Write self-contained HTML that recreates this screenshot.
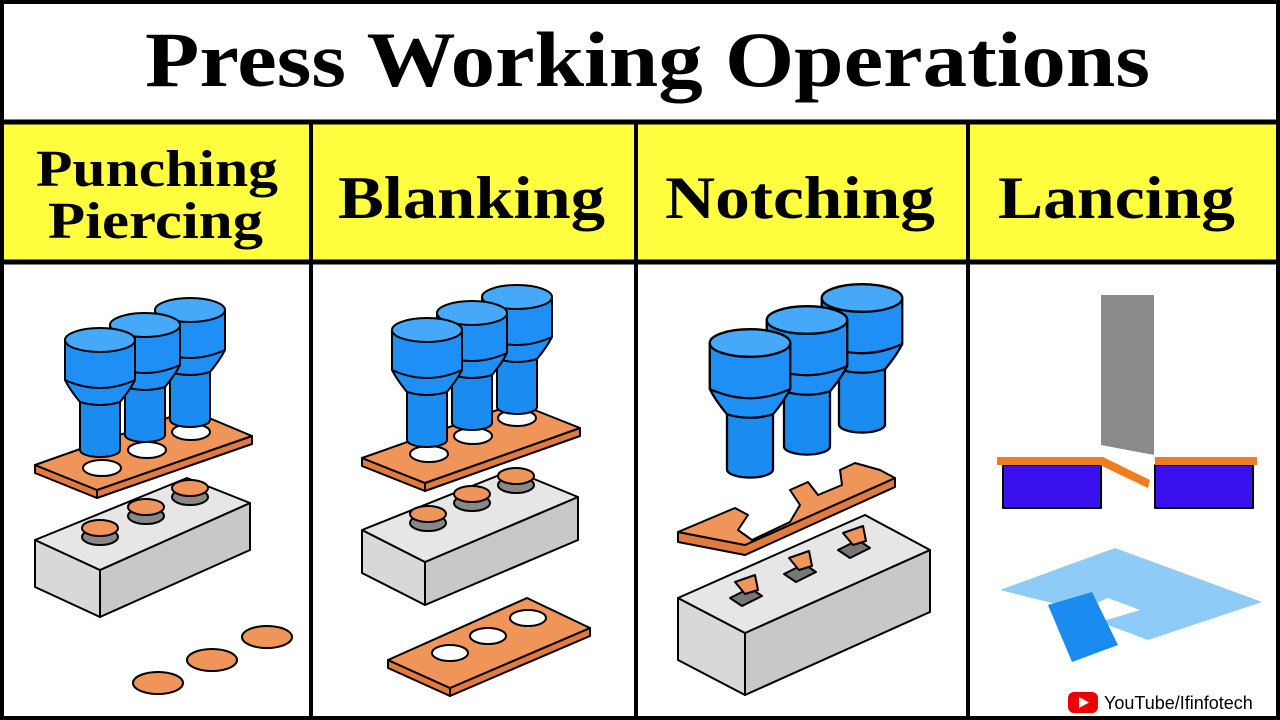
<!DOCTYPE html>
<html><head><meta charset="utf-8"><style>
html,body{margin:0;padding:0;background:#fff}
svg{display:block}
.t{font-family:"Liberation Serif",serif;font-weight:bold;fill:#000}
</style></head><body>
<svg width="1280" height="720" viewBox="0 0 1280 720" xmlns="http://www.w3.org/2000/svg">
<defs>
<g id="p" stroke="#000" stroke-width="2" stroke-linejoin="round">
<path d="M-20,50 L-20,110 A20,7 0 0 0 20,110 L20,50 Z" fill="#1a8cf0"/>
<path d="M-35,0 L-35,40 Q-30,50 -20,62 Q0,68 20,62 Q30,50 35,40 L35,0 Z" fill="#1e90f5"/>
<path d="M-35,40 Q0,56 35,40" fill="none"/>
<ellipse cx="0" cy="0" rx="35" ry="12" fill="#45a8f8"/>
</g>
</defs>
<rect x="0" y="0" width="1280" height="720" fill="#fff"/>
<rect x="0" y="124" width="1280" height="138" fill="#ffff40"/>
<rect x="2" y="2" width="1276" height="716" fill="none" stroke="#000" stroke-width="4"/>
<line x1="0" y1="122" x2="1280" y2="122" stroke="#000" stroke-width="5"/>
<line x1="0" y1="262" x2="1280" y2="262" stroke="#000" stroke-width="5"/>
<line x1="311" y1="122" x2="311" y2="720" stroke="#000" stroke-width="4"/>
<line x1="636" y1="122" x2="636" y2="720" stroke="#000" stroke-width="4"/>
<line x1="968" y1="122" x2="968" y2="720" stroke="#000" stroke-width="4"/>
<text class="t" x="145" y="86" font-size="78" textLength="1005" lengthAdjust="spacingAndGlyphs">Press Working Operations</text>
<text class="t" x="36" y="186" font-size="52" textLength="242" lengthAdjust="spacingAndGlyphs">Punching</text>
<text class="t" x="48" y="238" font-size="52" textLength="215" lengthAdjust="spacingAndGlyphs">Piercing</text>
<text class="t" x="338" y="218" font-size="60" textLength="267" lengthAdjust="spacingAndGlyphs">Blanking</text>
<text class="t" x="665" y="218" font-size="60" textLength="270" lengthAdjust="spacingAndGlyphs">Notching</text>
<text class="t" x="998" y="218" font-size="60" textLength="237" lengthAdjust="spacingAndGlyphs">Lancing</text>

<g stroke="#000" stroke-width="2" stroke-linejoin="round">
<!-- col1 -->
<path d="M35,540 L100,570 L100,617 L35,587 Z" fill="#d8d8d8"/>
<path d="M100,570 L250,503 L250,550 L100,617 Z" fill="#c8c8c8"/>
<path d="M35,540 L187,478 L250,503 L100,570 Z" fill="#e6e6e6"/>
<ellipse cx="100" cy="537" rx="18" ry="8" fill="#888"/><ellipse cx="100" cy="528" rx="18" ry="8" fill="#f0955a"/>
<ellipse cx="146" cy="516" rx="18" ry="8" fill="#888"/><ellipse cx="146" cy="507" rx="18" ry="8" fill="#f0955a"/>
<ellipse cx="190" cy="497" rx="18" ry="8" fill="#888"/><ellipse cx="190" cy="488" rx="18" ry="8" fill="#f0955a"/>
<path d="M35,465 L97,490 L97,498 L35,473 Z" fill="#e07a40"/>
<path d="M97,490 L252,436 L252,444 L97,498 Z" fill="#e07a40"/>
<path d="M35,465 L190,410 L252,436 L97,490 Z" fill="#f0955a"/>
<ellipse cx="102" cy="468" rx="19" ry="8" fill="#fff"/>
<ellipse cx="147" cy="450" rx="19" ry="8" fill="#fff"/>
<ellipse cx="191" cy="432" rx="19" ry="8" fill="#fff"/>
<use href="#p" x="190" y="310"/><use href="#p" x="145" y="325"/><use href="#p" x="100" y="340"/>
<ellipse cx="267" cy="637" rx="25" ry="11" fill="#f0955a"/>
<ellipse cx="212" cy="660" rx="25" ry="11" fill="#f0955a"/>
<ellipse cx="158" cy="683" rx="25" ry="11" fill="#f0955a"/>
<!-- col2 -->
<path d="M362,530 L425,562 L425,605 L362,573 Z" fill="#d8d8d8"/>
<path d="M425,562 L578,497 L578,540 L425,605 Z" fill="#c8c8c8"/>
<path d="M362,530 L512,470 L578,497 L425,562 Z" fill="#e6e6e6"/>
<ellipse cx="428" cy="523" rx="18" ry="8" fill="#888"/><ellipse cx="428" cy="514" rx="18" ry="8" fill="#f0955a"/>
<ellipse cx="472" cy="503" rx="18" ry="8" fill="#888"/><ellipse cx="472" cy="494" rx="18" ry="8" fill="#f0955a"/>
<ellipse cx="516" cy="485" rx="18" ry="8" fill="#888"/><ellipse cx="516" cy="476" rx="18" ry="8" fill="#f0955a"/>
<path d="M362,458 L425,483 L425,491 L362,466 Z" fill="#e07a40"/>
<path d="M425,483 L580,428 L580,436 L425,491 Z" fill="#e07a40"/>
<path d="M362,458 L517,403 L580,428 L425,483 Z" fill="#f0955a"/>
<ellipse cx="429" cy="454" rx="19" ry="8" fill="#fff"/>
<ellipse cx="473" cy="436" rx="19" ry="8" fill="#fff"/>
<ellipse cx="517" cy="418" rx="19" ry="8" fill="#fff"/>
<use href="#p" x="517" y="297"/><use href="#p" x="472" y="313"/><use href="#p" x="427" y="330"/>
<path d="M388,660 L450,688 L450,696 L388,668 Z" fill="#e07a40"/>
<path d="M450,688 L590,628 L590,636 L450,696 Z" fill="#e07a40"/>
<path d="M388,660 L527,598 L590,628 L450,688 Z" fill="#f0955a"/>
<ellipse cx="450" cy="653" rx="18" ry="8" fill="#fff"/>
<ellipse cx="488" cy="636" rx="18" ry="8" fill="#fff"/>
<ellipse cx="528" cy="618" rx="18" ry="8" fill="#fff"/>
<!-- col3 -->
<path d="M678,598 L745,633 L745,695 L678,660 Z" fill="#d8d8d8"/>
<path d="M745,633 L930,550 L930,612 L745,695 Z" fill="#c8c8c8"/>
<path d="M678,598 L865,515 L930,550 L745,633 Z" fill="#e6e6e6"/>
<path d="M730,598 L750,588 L762,596 L742,606 Z" fill="#777"/>
<path d="M784,574 L804,564 L816,572 L796,582 Z" fill="#777"/>
<path d="M838,550 L858,540 L870,548 L850,558 Z" fill="#777"/>
<path d="M735,582 L755,575 L758,590 L745,594 Z" fill="#f0955a"/>
<path d="M789,558 L809,551 L812,566 L799,570 Z" fill="#f0955a"/>
<path d="M843,533 L863,526 L866,541 L853,545 Z" fill="#f0955a"/>
<path d="M678,532 L678,542 L745,555 L895,487 L895,478 L745,545 Z" fill="#e07a40"/>
<path d="M678,532 L735,508 L748,515 L738,530 L752,540 L790,522 L800,505 L790,490 L808,482 L818,495 L842,485 L840,470 L855,463 L880,470 L895,478 L745,545 Z" fill="#f0955a"/>
<use href="#p" transform="translate(862,298) scale(1.15)"/><use href="#p" transform="translate(807,320) scale(1.15)"/><use href="#p" transform="translate(750,343) scale(1.15)"/>
<!-- col4 -->
<path d="M1101,295 L1154,295 L1154,455 L1101,445 Z" fill="#8a8a8a" stroke="none"/>
<rect x="1003" y="465" width="98" height="43" fill="#3a10ee" stroke="#000"/>
<rect x="1155" y="465" width="98" height="43" fill="#3a10ee" stroke="#000"/>
<path d="M997,457 L1103,457 L1150,480 L1148,488 L1100,465 L997,465 Z" fill="#f07c20" stroke="none"/>
<rect x="1155" y="457" width="102" height="8" fill="#f07c20" stroke="none"/>
<path d="M1000,590 L1115,548 L1262,602 L1148,640 L1100,622 L1140,610 L1108,598 L1080,610 Z" fill="#8ecbf7" stroke="none"/>
<path d="M1048,605 L1092,592 L1118,645 L1072,662 Z" fill="#1a8cf0" stroke="none"/>
</g>
<rect x="1068" y="692" width="30" height="21" rx="6" fill="#e00"/>
<path d="M1079,697 L1089,702.5 L1079,708 Z" fill="#fff"/>
<text x="1104" y="709" font-family="Liberation Sans,sans-serif" font-size="18" fill="#000">YouTube/Ifinfotech</text>
</svg>
</body></html>
